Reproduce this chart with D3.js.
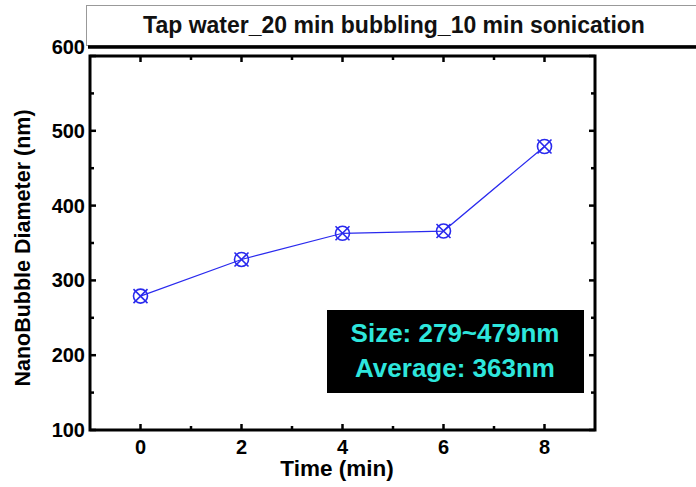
<!DOCTYPE html>
<html>
<head>
<meta charset="utf-8">
<script src="https://cdn.jsdelivr.net/npm/d3@7"></script>
<style>
  body { margin: 0; background: #fff; }
  svg { display: block; font-family: Arial, "Liberation Sans", sans-serif; }
</style>
</head>
<body>
<div id="chart"></div>
<script>
const times = [0, 2, 4, 6, 8]
const diameters = [279, 328, 363, 366, 479]
const yTicks = [100, 200, 300, 400, 500, 600]
const xTicks = [0, 2, 4, 6, 8]
const title = "Tap water_20 min bubbling_10 min sonication"
const noteLines = ["Size: 279~479nm", "Average: 363nm"]

const width = 696, height = 487
const box = { left: 90, right: 595, top: 56, bottom: 430 }

const svg = d3.select("#chart").append("svg")
    .attr("width", width)
    .attr("height", height)

const x = d3.scaleLinear().domain([-1, 9]).range([box.left, box.right])
const y = d3.scaleLinear().domain([100, 600]).range([box.bottom, box.top])

// title box
svg.append("rect")
    .attr("x", 86.5).attr("y", 5.5)
    .attr("width", 640).attr("height", 40)
    .attr("fill", "#fff")
    .attr("stroke", "#999")
    .attr("stroke-width", 1)

svg.append("text")
    .attr("x", 394).attr("y", 33)
    .attr("text-anchor", "middle")
    .attr("font-size", 23)
    .attr("font-weight", "bold")
    .attr("fill", "#111")
    .text(title)

svg.append("line")
    .attr("x1", 88).attr("x2", width)
    .attr("y1", 47).attr("y2", 47)
    .attr("stroke", "#000")
    .attr("stroke-width", 3.5)

// plot frame
svg.append("rect")
    .attr("x", box.left).attr("y", box.top)
    .attr("width", box.right - box.left).attr("height", box.bottom - box.top)
    .attr("fill", "none")
    .attr("stroke", "#000")
    .attr("stroke-width", 3)

const tickLen = 6, minorLen = 4
const yMinor = d3.range(150, 600, 100)
const xMinor = d3.range(-1, 10, 2)

const ticks = svg.append("g").attr("stroke", "#000").attr("stroke-width", 2.5)
yTicks.concat(yMinor).forEach(v => {
    const len = yMinor.includes(v) ? minorLen : tickLen
    ticks.append("line").attr("x1", box.left).attr("x2", box.left + len)
        .attr("y1", y(v)).attr("y2", y(v))
    ticks.append("line").attr("x1", box.right).attr("x2", box.right - len)
        .attr("y1", y(v)).attr("y2", y(v))
})
xTicks.concat(xMinor.filter(v => v > -1 && v < 9)).forEach(v => {
    const len = xTicks.includes(v) ? tickLen : minorLen
    ticks.append("line").attr("x1", x(v)).attr("x2", x(v))
        .attr("y1", box.bottom).attr("y2", box.bottom - len)
    ticks.append("line").attr("x1", x(v)).attr("x2", x(v))
        .attr("y1", box.top).attr("y2", box.top + len)
})

// tick labels
svg.append("g").selectAll("text")
    .data(yTicks)
    .join("text")
    .attr("x", box.left - 5)
    .attr("y", d => d === 600 ? y(d) - 9 : y(d))
    .attr("dy", "0.35em")
    .attr("text-anchor", "end")
    .attr("font-size", 20)
    .attr("font-weight", "bold")
    .text(d => d)

svg.append("g").selectAll("text")
    .data(xTicks)
    .join("text")
    .attr("x", d => x(d))
    .attr("y", box.bottom + 17)
    .attr("dy", "0.35em")
    .attr("text-anchor", "middle")
    .attr("font-size", 20)
    .attr("font-weight", "bold")
    .text(d => d)

// axis titles
svg.append("text")
    .attr("x", 337)
    .attr("y", 476)
    .attr("text-anchor", "middle")
    .attr("font-size", 22.5)
    .attr("font-weight", "bold")
    .text("Time (min)")

svg.append("text")
    .attr("transform", `translate(30, 248) rotate(-90)`)
    .attr("text-anchor", "middle")
    .attr("font-size", 21.5)
    .attr("font-weight", "bold")
    .text("NanoBubble Diameter (nm)")

// series
const pts = times.map((t, i) => [t, diameters[i]])
const blue = "#2a2aee"

svg.append("path")
    .datum(pts)
    .attr("fill", "none")
    .attr("stroke", blue)
    .attr("stroke-width", 1.2)
    .attr("d", d3.line().x(d => x(d[0])).y(d => y(d[1])))

const r = 7
const marks = svg.append("g").selectAll("g")
    .data(pts)
    .join("g")
    .attr("transform", d => `translate(${x(d[0])},${y(d[1])})`)
    .attr("stroke", blue)
    .attr("stroke-width", 1.6)
    .attr("fill", "none")
marks.append("circle").attr("r", r)
marks.append("path").attr("d", `M${-r},${-r}L${r},${r}M${r},${-r}L${-r},${r}`)

// annotation box
const note = svg.append("g")
note.append("rect")
    .attr("x", 327).attr("y", 310)
    .attr("width", 257).attr("height", 83)
    .attr("fill", "#000")
note.selectAll("text")
    .data(noteLines)
    .join("text")
    .attr("x", 455)
    .attr("y", (d, i) => 342 + i * 35)
    .attr("text-anchor", "middle")
    .attr("font-size", 26)
    .attr("font-weight", "bold")
    .attr("fill", "#2ee6dc")
    .text(d => d)
</script>
</body>
</html>
